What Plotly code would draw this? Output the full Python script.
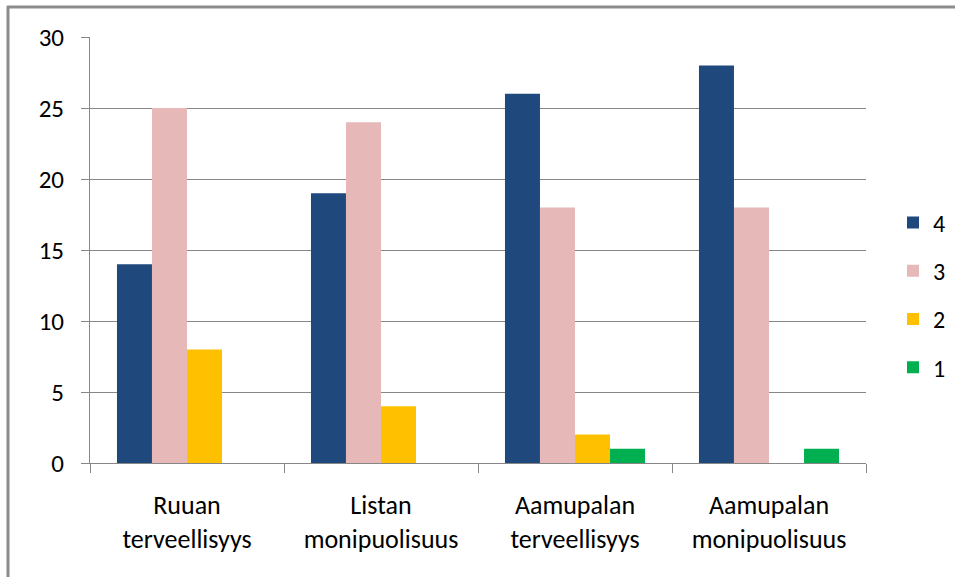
import plotly.graph_objects as go

categories = ["Ruuan<br>terveellisyys", "Listan<br>monipuolisuus",
              "Aamupalan<br>terveellisyys", "Aamupalan<br>monipuolisuus"]
series_names = ["4", "3", "2", "1"]
values_4 = [14, 19, 26, 28]
values_3 = [25, 24, 18, 18]
values_2 = [8, 4, 2, 0]
values_1 = [0, 0, 1, 1]
colors = ["#1F497D", "#E6B9B8", "#FFC000", "#00B050"]
y_ticks = [0, 5, 10, 15, 20, 25, 30]

FONT = "Carlito, Liberation Sans Narrow, Liberation Sans, sans-serif"

fig = go.Figure()
for name, vals, col in zip(series_names, [values_4, values_3, values_2, values_1], colors):
    fig.add_trace(go.Bar(x=categories, y=vals, name=name, marker_color=col,
                         marker_line_width=0, legendgroup=name))

fig.update_layout(
    width=957, height=579,
    margin=dict(l=90, r=91, t=37, b=116),
    paper_bgcolor="white", plot_bgcolor="white",
    barmode="group", bargap=0.278, bargroupgap=0,
    font=dict(family=FONT, size=25, color="#000000"),
    showlegend=True,
    legend=dict(xref="container", yref="container",
                x=893 / 957, y=1 - 295 / 579, xanchor="left", yanchor="middle",
                font=dict(size=24), tracegroupgap=14, itemwidth=30,
                bgcolor="rgba(0,0,0,0)"),
    xaxis=dict(showline=True, linecolor="#878787", linewidth=1,
               ticks="outside", tickson="boundaries", ticklen=9,
               tickcolor="#878787", showgrid=False,
               tickfont=dict(size=26), ticklabelstandoff=19),
    yaxis=dict(range=[0, 30], tickvals=y_ticks, showgrid=True,
               gridcolor="#878787", gridwidth=1, showline=True,
               linecolor="#878787", linewidth=1, ticks="outside",
               ticklen=8, tickcolor="#878787", zeroline=False,
               tickfont=dict(size=25), ticklabelstandoff=12),
)

# outer chart frame: top edge and left edge only
fig.add_shape(type="line", xref="paper", yref="paper",
              x0=(7 - 90) / 776, x1=(955 - 90) / 776,
              y0=(463 - 7) / 426, y1=(463 - 7) / 426,
              line=dict(color="#8C8C8C", width=3))
fig.add_shape(type="line", xref="paper", yref="paper",
              x0=(8 - 90) / 776, x1=(8 - 90) / 776,
              y0=(463 - 6) / 426, y1=(463 - 577) / 426,
              line=dict(color="#8C8C8C", width=3))

fig.write_html("out.html", config={"displayModeBar": False})
